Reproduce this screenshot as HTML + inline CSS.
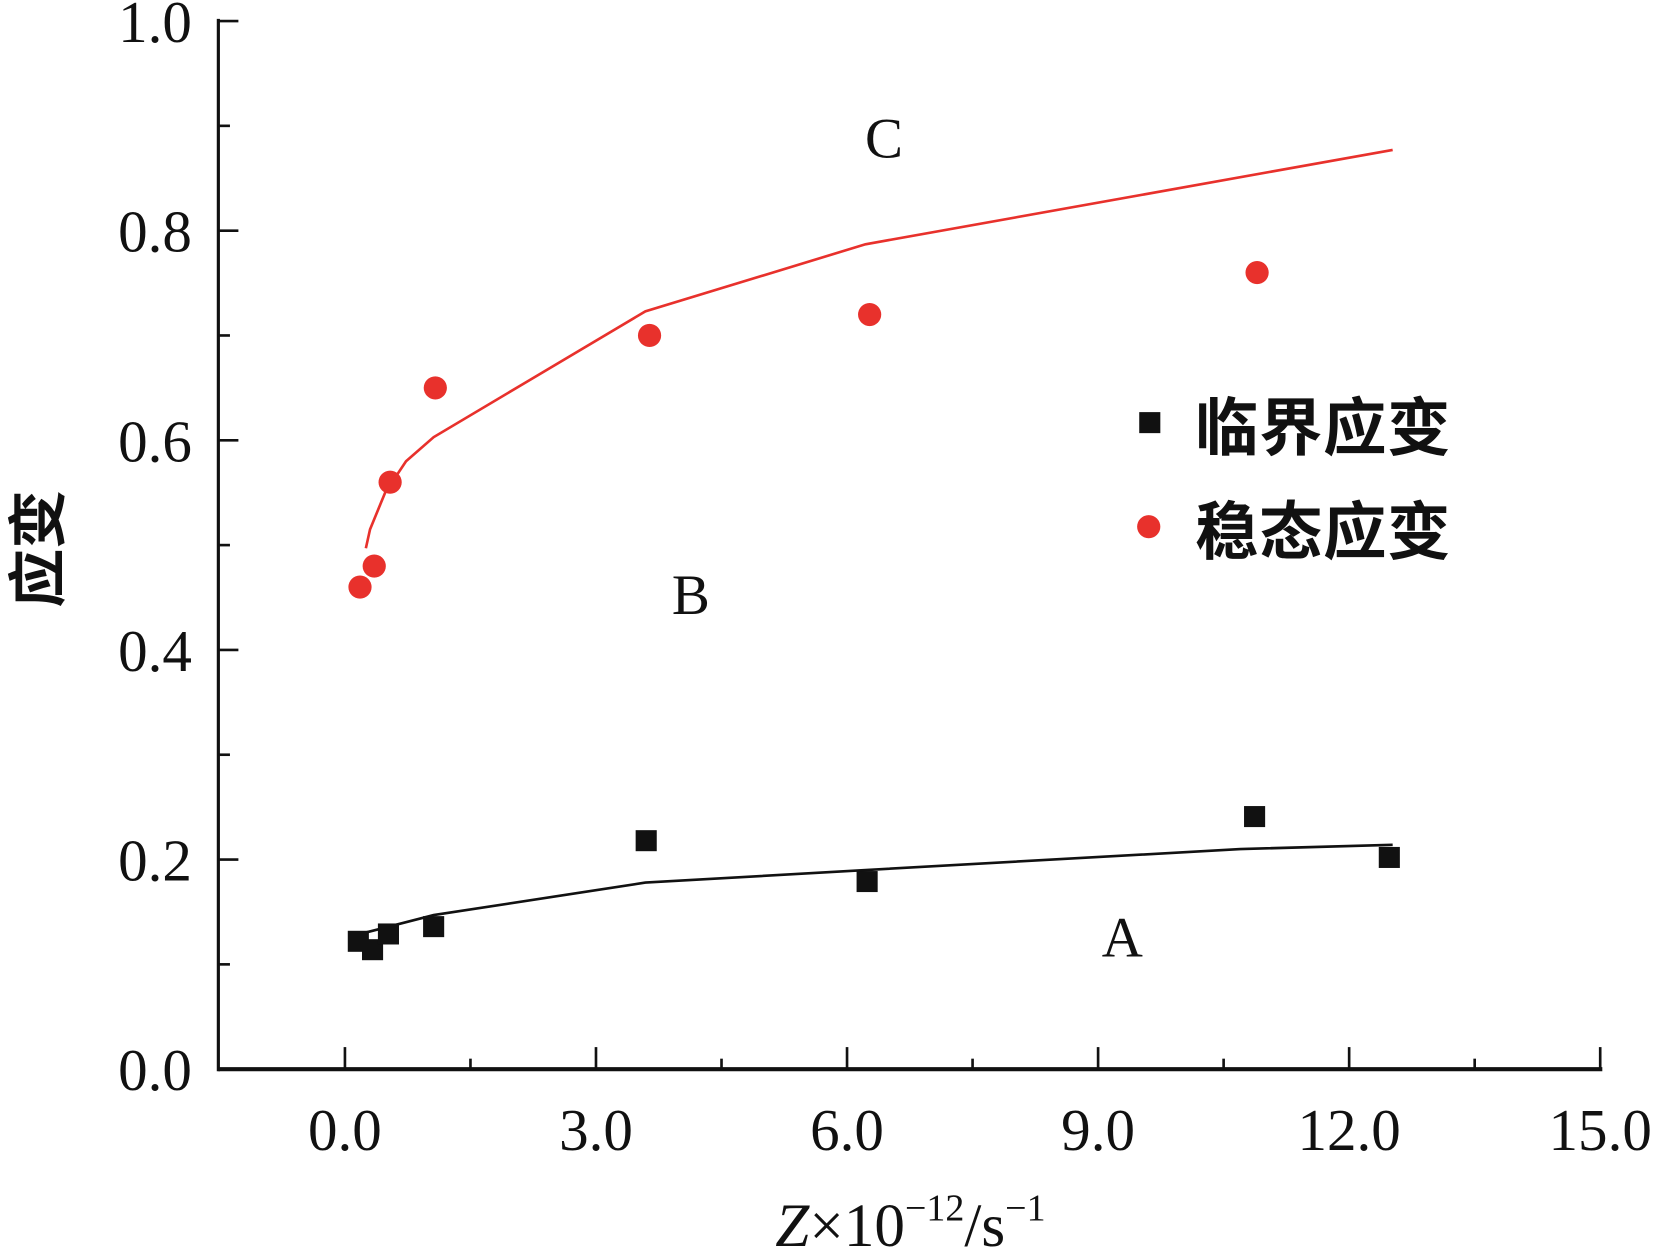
<!DOCTYPE html>
<html><head><meta charset="utf-8"><style>
html,body{margin:0;padding:0;background:#fff}
svg{display:block}
text{font-family:"Liberation Serif","Noto Serif CJK SC",serif;fill:#111}
.cjk{font-family:"Liberation Sans","Noto Sans CJK SC",sans-serif;font-weight:bold}
</style></head><body>
<svg id="chart" width="1654" height="1250" viewBox="0 0 1568 1189" preserveAspectRatio="none" xmlns="http://www.w3.org/2000/svg">
<g id="axes"></g>
<g id="marks"></g>
<text x="838" y="150" font-size="54" text-anchor="middle">C</text>
<text x="655" y="584" font-size="54" text-anchor="middle">B</text>
<text x="1064" y="910" font-size="54" text-anchor="middle">A</text>
<g>
<rect x="1080" y="392" width="20" height="20" fill="#111"/>
<text class="cjk" x="1133" y="428" font-size="60" textLength="242">临界应变</text>
<circle cx="1089" cy="501" r="11" fill="#e8312c"/>
<text class="cjk" x="1133" y="527" font-size="60" textLength="242">稳态应变</text>
</g>
<text class="cjk" font-size="56" transform="translate(56,522) rotate(-90)" text-anchor="middle">应变</text>
<text x="735" y="1185" font-size="58"><tspan font-style="italic">Z</tspan>×10<tspan font-size="36" dy="-24">−12</tspan><tspan dy="24">/s</tspan><tspan font-size="36" dy="-24">−1</tspan></text>
</svg>
<script>
const xTicks=[0,3,6,9,12,15];
const xTickLabels=["0.0","3.0","6.0","9.0","12.0","15.0"];
const yTicks=[0,0.2,0.4,0.6,0.8,1.0];
const yTickLabels=["0.0","0.2","0.4","0.6","0.8","1.0"];
const criticalX=[0.16,0.33,0.52,1.06,3.6,6.24,10.87,12.48];
const criticalY=[0.122,0.114,0.129,0.136,0.218,0.179,0.241,0.202];
const steadyX=[0.18,0.35,0.54,1.08,3.64,6.27,10.9];
const steadyY=[0.46,0.48,0.56,0.65,0.70,0.72,0.76];
const criticalFitX=[0.23,1.06,3.59,6.22,10.7,12.52];
const criticalFitY=[0.13,0.147,0.178,0.19,0.21,0.214];
const steadyFitX=[0.25,0.3,0.48,0.73,1.06,3.59,6.22,12.52];
const steadyFitY=[0.497,0.515,0.55,0.58,0.603,0.723,0.787,0.877];
const NS="http://www.w3.org/2000/svg";
const sx=v=>327+v*(1517-327)/15;
const sy=v=>1017-v*(1017-20);
const axes=document.getElementById('axes'),marks=document.getElementById('marks');
function mk(tag,attrs,parent){const e=document.createElementNS(NS,tag);for(const k in attrs)e.setAttribute(k,attrs[k]);parent.appendChild(e);return e;}
let l=mk('line',{x1:207,y1:1017,x2:1519,y2:1017,stroke:'#111','stroke-width':4},axes);


l=mk('line',{x1:207,y1:18,x2:207,y2:1019,stroke:'#111','stroke-width':3},axes);


for(let v=0;v<=15.01;v+=1.5){const major=Math.abs(v/3-Math.round(v/3))<1e-6;
 const t=mk('line',{x1:sx(v),x2:sx(v),y1:1017,y2:major?996:1007,stroke:'#111','stroke-width':2.5},axes);
 
 }
xTicks.forEach((v,i)=>{const t=mk('text',{x:sx(v),y:1094,'font-size':56,'text-anchor':'middle'},axes);t.textContent=xTickLabels[i];
 
 });
for(let v=0;v<=1.001;v+=0.1){const major=Math.round(v*10)%2===0;
 const t=mk('line',{x1:207,x2:major?226:218,y1:sy(v),y2:sy(v),stroke:'#111','stroke-width':2.5},axes);
 
 }
yTicks.forEach((v,i)=>{const t=mk('text',{x:182,y:sy(v)+20,'font-size':56,'text-anchor':'end'},axes);t.textContent=yTickLabels[i];
 
 });
const pts=(xs,ys)=>xs.map((x,i)=>sx(x)+','+sy(ys[i])).join(' ');
let p=mk('polyline',{points:pts(criticalFitX,criticalFitY),fill:'none',stroke:'#111','stroke-width':2.5},marks);


p=mk('polyline',{points:pts(steadyFitX,steadyFitY),fill:'none',stroke:'#e8312c','stroke-width':2.5},marks);


criticalX.forEach((x,i)=>{const r=mk('rect',{x:sx(x)-10,y:sy(criticalY[i])-10,width:20,height:20,fill:'#111'},marks);
 
 });
steadyX.forEach((x,i)=>{const c=mk('circle',{cx:sx(x),cy:sy(steadyY[i]),r:11,fill:'#e8312c'},marks);
 
 });
</script>
</body></html>
